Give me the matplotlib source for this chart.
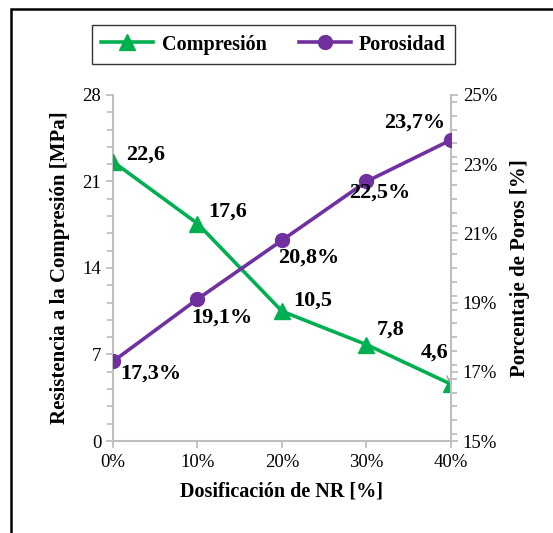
import matplotlib
matplotlib.use("Agg")
import matplotlib.pyplot as plt
from matplotlib.patches import Rectangle
from matplotlib.ticker import MultipleLocator, FixedLocator, FuncFormatter

plt.rcParams['font.family'] = ['Liberation Serif', 'DejaVu Serif']

# data
dosis = [0, 10, 20, 30, 40]
x_labels = ['0%', '10%', '20%', '30%', '40%']
compresion = [22.6, 17.6, 10.5, 7.8, 4.6]
porosidad = [17.3, 19.1, 20.8, 22.5, 23.7]
comp_txt = ['22,6', '17,6', '10,5', '7,8', '4,6']
poro_txt = ['17,3%', '19,1%', '20,8%', '22,5%', '23,7%']
poro_ticks = [15, 17, 19, 21, 23, 25]

verde = '#00B050'
morado = '#7030A0'
gris = '#BFBFBF'

fig = plt.figure(figsize=(5.53, 5.33), dpi=100)
ax = fig.add_axes([0.2043, 0.1726, 0.6112, 0.6492])
ax2 = ax.twinx()

l1, = ax.plot(dosis, compresion, color=verde, lw=2.6, marker='^', ms=11,
              label='Compresión', zorder=3)
l2, = ax2.plot(dosis, porosidad, color=morado, lw=2.6, marker='o', ms=10,
               label='Porosidad', zorder=3)

ax.set_xlim(0, 40)
ax.set_ylim(0, 28)
ax2.set_ylim(15, 25)
ax.set_xticks(dosis)
ax.set_xticklabels(x_labels)
ax.yaxis.set_major_locator(MultipleLocator(7))
ax.yaxis.set_minor_locator(MultipleLocator(1.4))
ax2.yaxis.set_major_locator(FixedLocator(poro_ticks))
ax2.yaxis.set_minor_locator(MultipleLocator(0.4))
ax2.yaxis.set_major_formatter(FuncFormatter(lambda v, p: '%d%%' % round(v)))

for a in (ax, ax2):
    for s in a.spines.values():
        s.set_visible(False)
    a.tick_params(labelsize=13.5, colors='black', length=5, width=1.3)
    a.tick_params(which='minor', length=4, width=1.3, color=gris)
    a.tick_params(which='major', color=gris)
ax.spines['left'].set_visible(True)
ax.spines['bottom'].set_visible(True)
ax2.spines['right'].set_visible(True)
for s in (ax.spines['left'], ax.spines['bottom'], ax2.spines['right']):
    s.set_color(gris)
    s.set_linewidth(1.5)
ax.tick_params(axis='x', pad=4)

ax.set_xlabel('Dosificación de NR [%]', fontsize=14.5, fontweight='bold', labelpad=8)
ax.set_ylabel('Resistencia a la Compresión [MPa]', fontsize=15, fontweight='bold', labelpad=9)
ax2.set_ylabel('Porcentaje de Poros [%]', fontsize=15, fontweight='bold', labelpad=9)

# data labels
off_c = [(33, 7), (30, 12), (31, 11), (24, 15), (-16, 32)]
for x, y, t, o in zip(dosis, compresion, comp_txt, off_c):
    if t == '4,6':
        ax.annotate(t, (x, y), xytext=o, textcoords='offset pixels',
                    ha='center', va='center', fontsize=16, fontweight='bold',
                    arrowprops=dict(arrowstyle='-', color='#A6A6A6', lw=1.2,
                                    shrinkA=9, shrinkB=2), zorder=4)
    else:
        ax.annotate(t, (x, y), xytext=o, textcoords='offset pixels',
                    ha='center', va='center', fontsize=16, fontweight='bold', zorder=4)

off_p = [(38, -12), (24, -18), (27, -17), (13, -11), (-36, 17)]
for x, y, t, o in zip(dosis, porosidad, poro_txt, off_p):
    ax2.annotate(t, (x, y), xytext=o, textcoords='offset pixels',
                 ha='center', va='center', fontsize=16, fontweight='bold', zorder=4)

leg = fig.legend(handles=[l1, l2], loc='center', bbox_to_anchor=(0.4946, 0.9165),
                 ncol=2, prop={'weight': 'bold', 'size': 14.5},
                 frameon=True, fancybox=False, edgecolor='black',
                 handlelength=2.6, handletextpad=0.4, columnspacing=1.6,
                 borderpad=0.45)
leg.get_frame().set_linewidth(1.0)

fig.patches.append(Rectangle((11 / 553, -0.1), 1.2, 1.1 - 9 / 533,
                             transform=fig.transFigure, fill=False,
                             edgecolor='black', lw=1.8))

fig.savefig('out.png', dpi=100)
